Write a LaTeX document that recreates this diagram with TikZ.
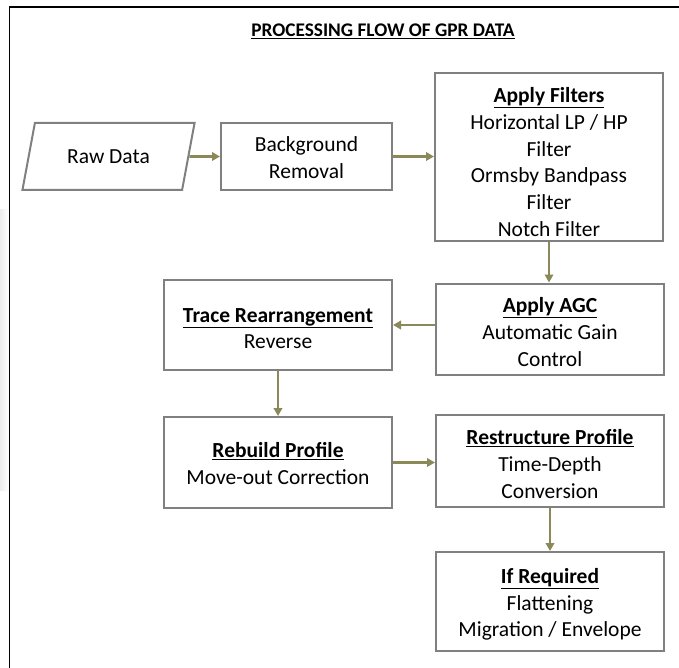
\documentclass[tikz,border=0pt]{standalone}
\usepackage{fontspec}
\setmainfont{Carlito}
\usetikzlibrary{shapes.geometric,arrows.meta}
\definecolor{boxgray}{RGB}{128,128,128}
\definecolor{olivearrow}{RGB}{140,137,88}
\newcommand\boxhead[2][21pt]{\rule{0pt}{#1}\underline{\textbf{#2}}}
\begin{document}
\begin{tikzpicture}[x=1pt,y=-1pt,
  box/.style={draw=boxgray,line width=2pt,fill=white,inner sep=0pt,align=center,
    minimum width=228pt,font=\fontsize{21.5}{26.7}\selectfont},
  flow/.style={draw=olivearrow,line width=2.6pt,-{Triangle[length=8pt,width=8.5pt]}},
  frame/.style={draw=black,line width=1.5pt}]
\useasboundingbox (0,0) rectangle (679,668);
\fill[white] (0,0) rectangle (679,668);
\shade[left color=gray!14,right color=white] (0,210) rectangle (8.5,490);
\draw[frame] (9.5,668) -- (9.5,7) -- (679,7);

\node[font=\fontsize{19.3}{22}\selectfont] (title) at (383,31) {\underline{\textbf{PROCESSING FLOW OF GPR DATA}}};

\node[trapezium,trapezium left angle=63.4,trapezium right angle=116.6,trapezium stretches=true,
  minimum width=173pt,minimum height=67pt,draw=boxgray,line width=2pt,inner sep=0pt,
  font=\fontsize{21.5}{26.7}\selectfont] (raw) at (108.5,156.5) {Raw Data};
\node[box,minimum width=171pt,minimum height=67pt] (bg) at (306.5,156.5) {\rule{0pt}{17pt}Background\\Removal};
\node[box,minimum height=168pt] (filt) at (549,157) {\boxhead[25pt]{Apply Filters}\\Horizontal LP / HP\\Filter\\Ormsby Bandpass\\Filter\\Notch Filter};
\node[box,minimum height=91pt] (agc) at (550,329) {\boxhead{Apply AGC}\\Automatic Gain\\Control};
\node[box,minimum height=90pt] (trace) at (278,325) {\boxhead{Trace Rearrangement}\\Reverse};
\node[box,minimum height=91pt] (rebuild) at (278,462.5) {\boxhead[17pt]{Rebuild Profile}\\Move-out Correction};
\node[box,minimum height=92pt] (restr) at (550,461) {\boxhead{Restructure Profile}\\Time-Depth\\Conversion};
\node[box,minimum height=99pt] (ifreq) at (550,601.5) {\boxhead{If Required}\\Flattening\\Migration / Envelope};

\draw[flow] (raw.east) -- (bg.west);
\draw[flow] (bg.east) -- (filt.west |- bg.east);
\draw[flow] (filt.south) -- (agc.north -| filt.south);
\draw[flow] (agc.west |- trace.east) -- (trace.east);
\draw[flow] (trace.south) -- (rebuild.north);
\draw[flow] (rebuild.east) -- (restr.west |- rebuild.east);
\draw[flow] (restr.south) -- (ifreq.north);
\end{tikzpicture}
\end{document}
